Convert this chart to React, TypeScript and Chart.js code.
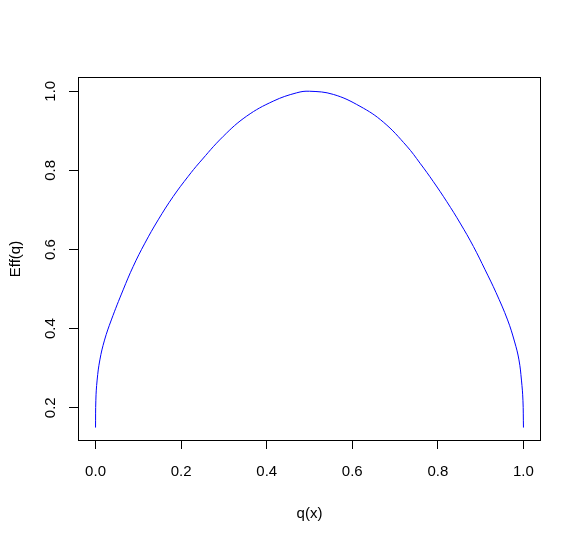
import { useEffect, useRef } from "react";
import { Chart, registerables } from "chart.js";

Chart.register(...registerables);

const qValues = [
  0, 0.0007, 0.0037, 0.0101, 0.021, 0.0369, 0.0645, 0.0879, 0.1153, 0.1464,
  0.1815, 0.2166, 0.2423, 0.2984, 0.3531, 0.4153, 0.47, 0.5, 0.5557, 0.618,
  0.6726, 0.7273, 0.7584, 0.7895, 0.8209, 0.852, 0.8831, 0.9104, 0.9357,
  0.9629, 0.9794, 0.9895, 0.9953, 0.9988, 1.0,
];
const effValues = [
  0.15, 0.219, 0.27, 0.321, 0.371, 0.422, 0.498, 0.557, 0.616, 0.675, 0.734,
  0.785, 0.819, 0.886, 0.937, 0.975, 0.996, 1.0, 0.992, 0.962, 0.922, 0.8613,
  0.818, 0.7714, 0.7208, 0.6668, 0.6076, 0.5486, 0.4916, 0.422, 0.3663,
  0.321, 0.27, 0.219, 0.15,
];

const xTicks = [0, 0.2, 0.4, 0.6, 0.8, 1.0];
const xTickLabels = ["0.0", "0.2", "0.4", "0.6", "0.8", "1.0"];
const yTicks = [0.2, 0.4, 0.6, 0.8, 1.0];
const yTickLabels = ["0.2", "0.4", "0.6", "0.8", "1.0"];
const xTitle = "q(x)";
const yTitle = "Eff(q)";

const FONT = '15px "Liberation Sans", Arial, Helvetica, sans-serif';

export default function App() {
  const ref = useRef<HTMLCanvasElement>(null);

  useEffect(() => {
    if (!ref.current) return;

    const textPlugin = {
      id: "rText",
      afterDraw(chart: any) {
        const { ctx, chartArea: a, scales } = chart;
        const xs = scales.x;
        const ys = scales.y;
        ctx.save();
        ctx.strokeStyle = "#000";
        ctx.lineWidth = 1;
        ctx.strokeRect(a.left + 0.5, a.top + 0.5, a.right - a.left - 1, a.bottom - a.top - 1);
        ctx.fillStyle = "#000";
        ctx.font = FONT;
        ctx.textAlign = "center";
        ctx.textBaseline = "alphabetic";
        xTicks.forEach((v, i) => {
          ctx.fillText(xTickLabels[i], xs.getPixelForValue(v), a.bottom + 35);
        });
        ctx.fillText(xTitle, (a.left + a.right) / 2, a.bottom + 77);
        yTicks.forEach((v, i) => {
          ctx.save();
          ctx.translate(a.left - 23, ys.getPixelForValue(v));
          ctx.rotate(-Math.PI / 2);
          ctx.fillText(yTickLabels[i], 0, 0);
          ctx.restore();
        });
        ctx.save();
        ctx.translate(a.left - 58.5, (a.top + a.bottom) / 2);
        ctx.rotate(-Math.PI / 2);
        ctx.fillText(yTitle, 0, 0);
        ctx.restore();
        ctx.restore();
      },
    };

    const chart = new Chart(ref.current, {
      type: "line",
      data: {
        datasets: [
          {
            data: qValues.map((q, i) => ({ x: q, y: effValues[i] })),
            borderColor: "#0000ff",
            borderWidth: 1,
            pointRadius: 0,
            fill: false,
            tension: 0.4,
          },
        ],
      },
      options: {
        animation: false,
        responsive: false,
        devicePixelRatio: 1,
        layout: { padding: { left: 0, top: 77, right: 40, bottom: 0 } },
        plugins: {
          legend: { display: false },
          tooltip: { enabled: false },
        },
        scales: {
          x: {
            type: "linear",
            min: -0.041,
            max: 1.041,
            afterBuildTicks: (s: any) => {
              s.ticks = xTicks.map((v) => ({ value: v }));
            },
            afterFit: (s: any) => {
              s.height = 98;
            },
            ticks: { display: false },
            grid: {
              display: true,
              drawOnChartArea: false,
              drawTicks: true,
              tickLength: 8,
              color: "#000",
              lineWidth: 1,
            },
            border: { display: false },
          },
          y: {
            type: "linear",
            min: 0.116,
            max: 1.036,
            afterBuildTicks: (s: any) => {
              s.ticks = yTicks.map((v) => ({ value: v }));
            },
            afterFit: (s: any) => {
              s.width = 78;
            },
            ticks: { display: false },
            grid: {
              display: true,
              drawOnChartArea: false,
              drawTicks: true,
              tickLength: 9,
              color: "#000",
              lineWidth: 1,
            },
            border: { display: false },
          },
        },
      },
      plugins: [textPlugin],
    } as any);

    return () => chart.destroy();
  }, []);

  return (
    <div style={{ position: "absolute", left: 0, top: 0, width: 581, height: 539, background: "#fff" }}>
      <canvas ref={ref} width={581} height={539} style={{ display: "block" }} />
    </div>
  );
}
